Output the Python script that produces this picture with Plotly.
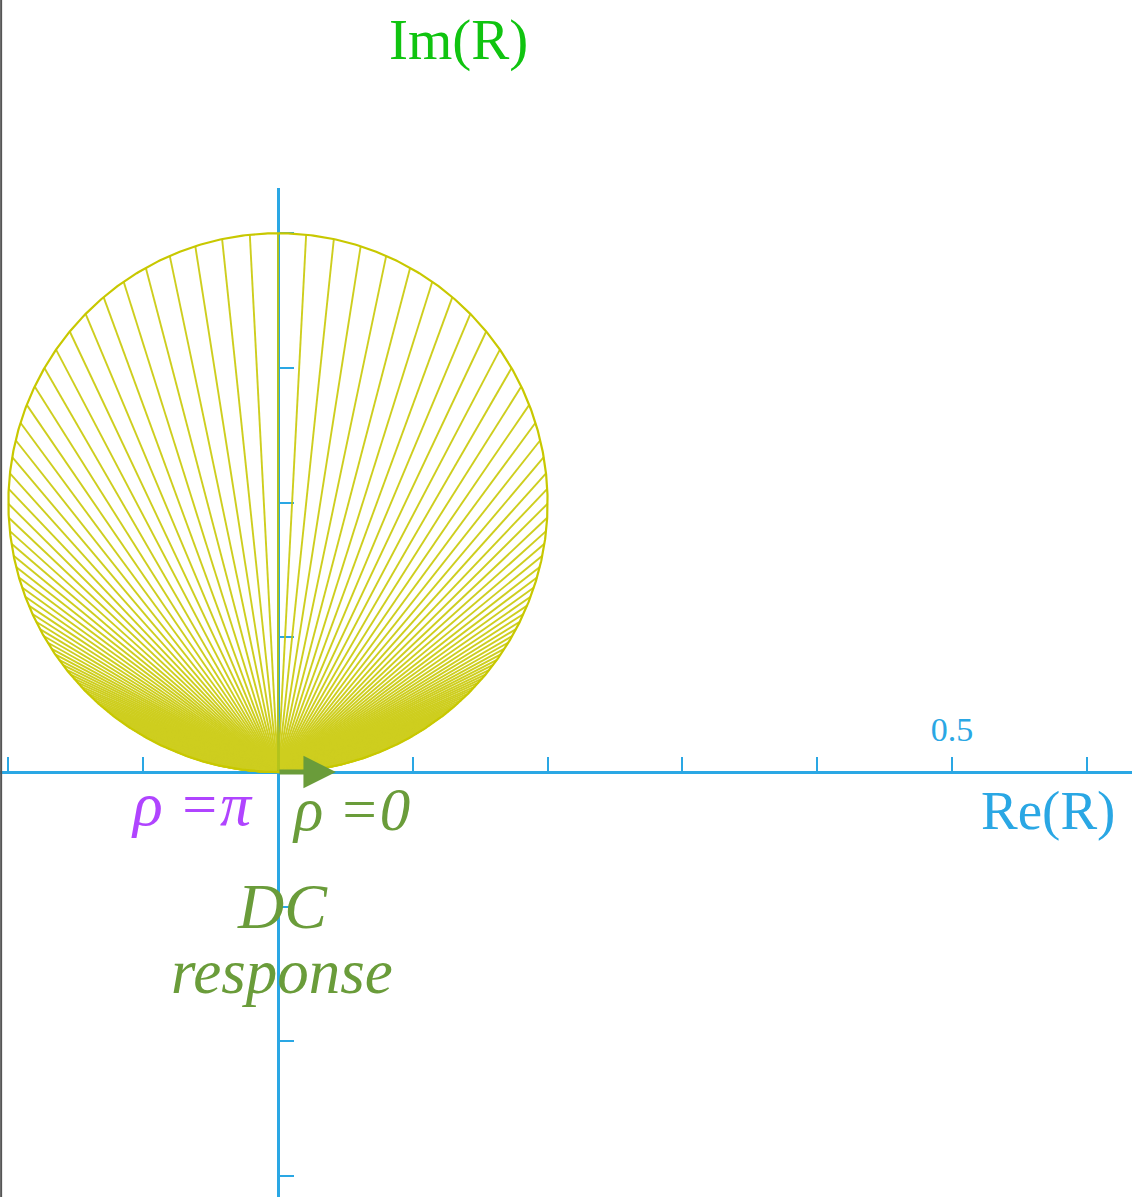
import numpy as np
import plotly.graph_objects as go

# ---- response parameters -------------------------------------------------
PEAK_GAIN = 0.4      # |R| at resonance = diameter of the response circle
SHARPNESS = 6.0      # (1 + r^2) / (1 - r^2) for pole radius r
N_RAYS = 360         # frequency samples over 0..pi

# ---- axis ticks ------------------------------------------------------------
X_TICKS = [-0.2, -0.1, 0.1, 0.2, 0.3, 0.4, 0.5, 0.6]
X_TICK_TEXT = ["", "", "", "", "", "", "0.5", ""]
Y_TICKS = [-0.3, -0.2, -0.1, 0.1, 0.2, 0.3, 0.4]

# ---- colours -----------------------------------------------------------------
AXIS_BLUE = "#2aa7e4"
RAY_YELLOW = "rgb(200,200,0)"
IM_GREEN = "#10c410"
DC_GREEN = "#6a9c3a"
PI_PURPLE = "#b044ff"
SERIF = "Liberation Serif, Times New Roman, serif"


def response(rho):
    """Resonator frequency response R(rho), zero at DC and at Nyquist."""
    s, c = np.sin(rho), np.cos(rho)
    return PEAK_GAIN * 1j * s / (s + 1j * SHARPNESS * c)


rho = np.linspace(0.0, np.pi, N_RAYS + 1)
R = response(rho)

# rays from the origin to every sampled R(rho)
ray_x, ray_y = [], []
for z in R:
    ray_x += [0.0, z.real, None]
    ray_y += [0.0, z.imag, None]

# the locus itself, finely sampled
rho_fine = np.linspace(0.0, np.pi, 4001)
R_fine = response(rho_fine)

fig = go.Figure()
fig.add_trace(go.Scatter(
    x=ray_x, y=ray_y, mode="lines",
    line=dict(color=RAY_YELLOW, width=1.9),
    opacity=0.88, hoverinfo="skip", showlegend=False,
))
fig.add_trace(go.Scatter(
    x=R_fine.real, y=R_fine.imag, mode="lines",
    line=dict(color=RAY_YELLOW, width=2.2),
    hoverinfo="skip", showlegend=False,
))

W, H = 1132, 1197
X_RANGE = [-0.2062, 0.6335]
Y_RANGE = [-0.3155, 0.4336]

fig.update_layout(
    width=W, height=H,
    margin=dict(l=0, r=0, t=0, b=0),
    paper_bgcolor="white", plot_bgcolor="white",
    showlegend=False,
    xaxis=dict(
        range=X_RANGE, showgrid=False, zeroline=False,
        showline=True, linecolor=AXIS_BLUE, linewidth=3,
        anchor="free", position=1 - 772 / H, side="top",
        ticks="outside", ticklen=14, tickwidth=2, tickcolor=AXIS_BLUE,
        tickvals=X_TICKS, ticktext=X_TICK_TEXT,
        tickfont=dict(family=SERIF, size=34, color=AXIS_BLUE),
        ticklabelstandoff=2,
        layer="below traces", fixedrange=True,
    ),
    yaxis=dict(
        range=Y_RANGE, domain=[0, 1 - 188 / H],
        showgrid=False, zeroline=False,
        showline=True, linecolor=AXIS_BLUE, linewidth=3,
        anchor="free", position=278 / W, side="right",
        ticks="outside", ticklen=14, tickwidth=2, tickcolor=AXIS_BLUE,
        tickvals=Y_TICKS, showticklabels=False,
        layer="below traces", fixedrange=True,
    ),
)

# DC response arrow along the positive real axis
fig.add_annotation(
    x=0.043, y=0, ax=0, ay=0, xref="x", yref="y", axref="x", ayref="y",
    text="", showarrow=True, arrowhead=2, arrowsize=1.3, arrowwidth=5,
    arrowcolor=DC_GREEN,
)

# axis title above the plot area
fig.add_annotation(
    x=458 / W, y=1 - 40 / H, xref="paper", yref="paper",
    text="Im(R)", showarrow=False, xanchor="center", yanchor="middle",
    font=dict(family=SERIF, size=57, color=IM_GREEN),
)

labels = [
    dict(x=0.571, y=-0.0282, text="Re(R)", color=AXIS_BLUE, size=55, italic=False),
    dict(x=-0.0640, y=-0.0240, text="ρ =π", color=PI_PURPLE, size=62, italic=True),
    dict(x=0.0540, y=-0.0275, text="ρ =0", color=DC_GREEN, size=61, italic=True),
    dict(x=0.0030, y=-0.0995, text="DC", color=DC_GREEN, size=64, italic=True),
    dict(x=0.0030, y=-0.1485, text="response", color=DC_GREEN, size=63, italic=True),
]
for lab in labels:
    fig.add_annotation(
        x=lab["x"], y=lab["y"], xref="x", yref="y",
        text=f"<i>{lab['text']}</i>" if lab["italic"] else lab["text"],
        showarrow=False, xanchor="center", yanchor="middle",
        font=dict(family=SERIF, size=lab["size"], color=lab["color"]),
    )

# thin dark frame edge on the left
fig.add_shape(type="line", xref="paper", yref="paper",
              x0=0.001, x1=0.001, y0=0, y1=1,
              line=dict(color="#555555", width=2))

fig.write_html("out.html")
